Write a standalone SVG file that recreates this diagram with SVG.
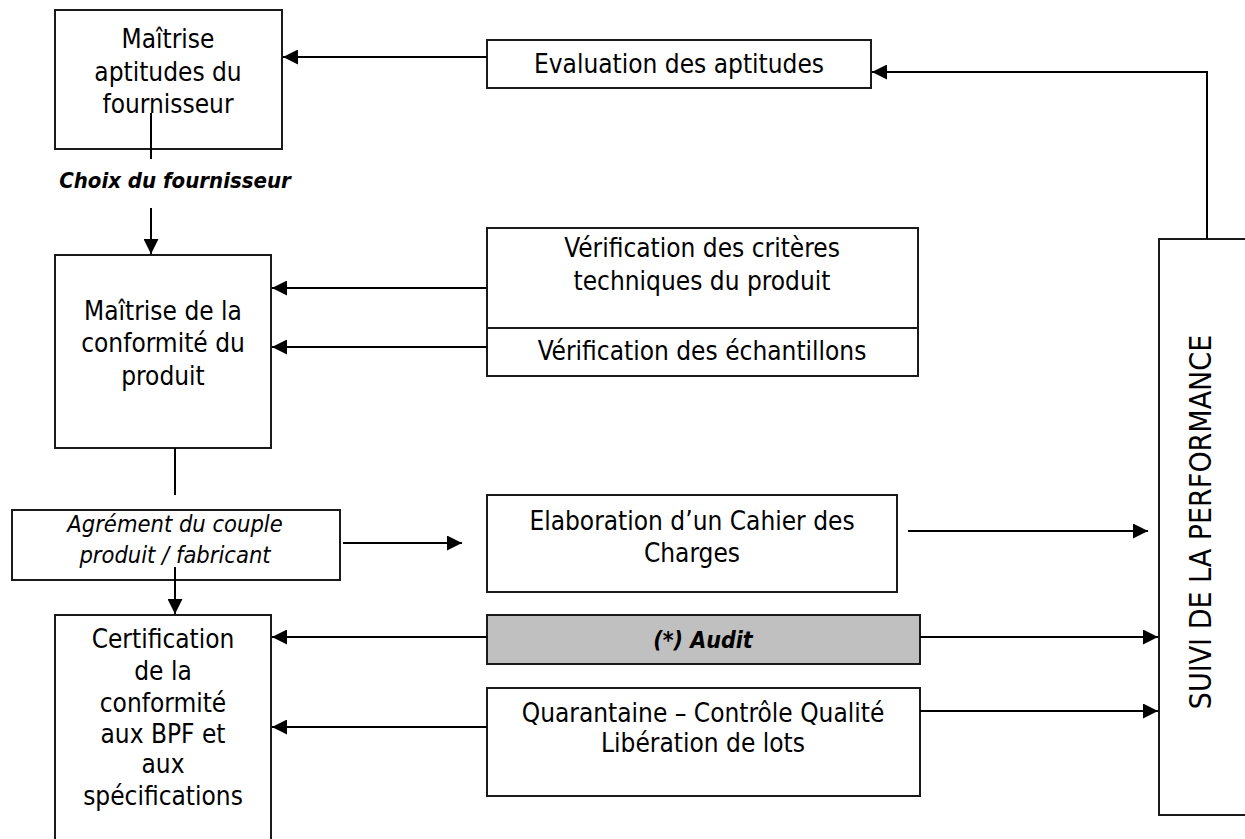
<svg xmlns="http://www.w3.org/2000/svg" width="1245" height="839" viewBox="0 0 1245 839">
<style>
.box{fill:#fff;stroke:#1a1a1a;stroke-width:2}
.gray{fill:#c0c0c0;stroke:#1a1a1a;stroke-width:2}
.t{font-family:"DejaVu Sans Condensed","DejaVu Sans",sans-serif;font-stretch:condensed;font-size:26px;fill:#000;text-anchor:middle}
.it{font-style:italic;font-size:23.5px}
.bi{font-style:italic;font-weight:bold;font-size:22px}
.ln{fill:none;stroke:#000;stroke-width:2}
</style>
<defs>
<marker id="ah" markerUnits="userSpaceOnUse" markerWidth="16" markerHeight="15" refX="15" refY="7.5" orient="auto"><path d="M0,0 L15,7.5 L0,15 z" fill="#000"/></marker>
</defs>
<g id="n-maitrise-aptitudes">
<rect class="box" x="55" y="10" width="227" height="139"/>
<text class="t" x="168" y="48">Maîtrise</text>
<text class="t" x="168" y="81">aptitudes du</text>
<text class="t" x="168" y="113">fournisseur</text>
</g>
<g id="n-evaluation">
<rect class="box" x="487" y="40" width="384" height="48"/>
<text class="t" x="679" y="73">Evaluation des aptitudes</text>
</g>
<g id="n-choix">
<text class="t bi" x="175" y="188">Choix du fournisseur</text>
</g>
<g id="n-maitrise-conformite">
<rect class="box" x="55" y="255" width="216" height="193"/>
<text class="t" x="163" y="320">Maîtrise de la</text>
<text class="t" x="163" y="352">conformité du</text>
<text class="t" x="163" y="385">produit</text>
</g>
<g id="n-verif-criteres">
<rect class="box" x="487" y="228" width="431" height="100"/>
<text class="t" x="702" y="257">Vérification des critères</text>
<text class="t" x="702" y="290">techniques du produit</text>
</g>
<g id="n-verif-echantillons">
<rect class="box" x="487" y="328" width="431" height="48"/>
<text class="t" x="702" y="360">Vérification des échantillons</text>
</g>
<g id="n-agrement">
<rect class="box" x="12" y="510" width="328" height="70"/>
<text class="t it" x="175" y="532">Agrément du couple</text>
<text class="t it" x="175" y="563">produit / fabricant</text>
</g>
<g id="n-elaboration">
<rect class="box" x="487" y="495" width="410" height="97"/>
<text class="t" x="692" y="530">Elaboration d’un Cahier des</text>
<text class="t" x="692" y="562">Charges</text>
</g>
<g id="n-audit">
<rect class="gray" x="487" y="615" width="433" height="49"/>
<text class="t bi" x="703" y="648" style="font-size:23px">(*) Audit</text>
</g>
<g id="n-quarantaine">
<rect class="box" x="487" y="688" width="433" height="108"/>
<text class="t" x="703" y="722">Quarantaine – Contrôle Qualité</text>
<text class="t" x="703" y="752">Libération de lots</text>
</g>
<g id="n-certification">
<rect class="box" x="55" y="615" width="216" height="240"/>
<text class="t" x="163" y="648">Certification</text>
<text class="t" x="163" y="680">de la</text>
<text class="t" x="163" y="712">conformité</text>
<text class="t" x="163" y="743">aux BPF et</text>
<text class="t" x="163" y="773">aux</text>
<text class="t" x="163" y="805">spécifications</text>
</g>
<g id="n-suivi">
<rect class="box" x="1159" y="239" width="100" height="576"/>
<text class="t" transform="translate(1211,522) rotate(-90)" style="font-size:30px">SUIVI DE LA PERFORMANCE</text>
</g>
<g id="connectors">
<path class="ln" d="M487,57 H283" marker-end="url(#ah)"/>
<path class="ln" d="M1207,239 V72 H872" marker-end="url(#ah)"/>
<path class="ln" d="M151,113 V159"/>
<path class="ln" d="M151,208 V254" marker-end="url(#ah)"/>
<path class="ln" d="M487,288 H272" marker-end="url(#ah)"/>
<path class="ln" d="M487,347 H272" marker-end="url(#ah)"/>
<path class="ln" d="M175,448 V495"/>
<path class="ln" d="M343,543 H462" marker-end="url(#ah)"/>
<path class="ln" d="M175,567 V614" marker-end="url(#ah)"/>
<path class="ln" d="M908,531 H1148" marker-end="url(#ah)"/>
<path class="ln" d="M487,637 H272" marker-end="url(#ah)"/>
<path class="ln" d="M920,637 H1158" marker-end="url(#ah)"/>
<path class="ln" d="M920,711 H1158" marker-end="url(#ah)"/>
<path class="ln" d="M487,727 H272" marker-end="url(#ah)"/>
</g>
</svg>
